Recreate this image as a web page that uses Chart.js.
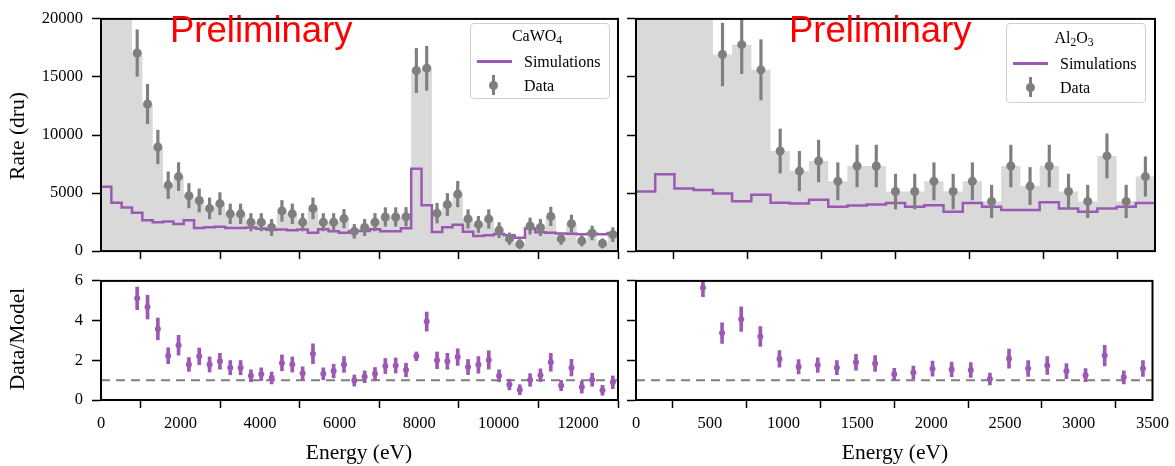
<!DOCTYPE html>
<html>
<head>
<meta charset="utf-8">
<script src="https://cdn.jsdelivr.net/npm/chart.js@4.4.1/dist/chart.umd.min.js"></script>
<style>
body { margin: 0; background: #fff; width: 1175px; height: 466px; position: relative; overflow: hidden;
       font-family: "Liberation Serif", "DejaVu Serif", serif; color: #000; }
.panel { position: absolute; }
.txt { position: absolute; white-space: nowrap; transform: translate(-50%, -50%); font-size: 21.5px; }
.rot { transform: translate(-50%, -50%) rotate(-90deg); }
.prelim { position: absolute; font-family: "Liberation Sans", Arial, sans-serif; color: #ff0000;
          font-size: 36.5px; line-height: 36px; white-space: nowrap; }
.leyenda { position: absolute; background: rgba(255,255,255,0.85); border: 1.5px solid #d0d0d0; border-radius: 4px; box-sizing: border-box; }
.leyenda div { position: absolute; white-space: nowrap; font-size: 16px; line-height: 20px; }
.leyenda sub { font-size: 0.72em; vertical-align: -0.3em; line-height: 0; }
.linea { position: absolute; height: 2.5px; background: #9c59b4; }
.punto { position: absolute; width: 9px; height: 9px; border-radius: 50%; background: #7f7f7f; }
.barra { position: absolute; width: 2.5px; height: 20px; background: #7f7f7f; }
</style>
</head>
<body>
<div class="panel" style="left:0;top:0;width:630px;height:270px"><canvas id="cTL"></canvas></div>
<div class="panel" style="left:0;top:262px;width:630px;height:204px"><canvas id="cBL"></canvas></div>
<div class="panel" style="left:620px;top:0;width:555px;height:270px"><canvas id="cTR"></canvas></div>
<div class="panel" style="left:620px;top:262px;width:555px;height:204px"><canvas id="cBR"></canvas></div>

<div class="txt rot" style="left:17px;top:136px">Rate (dru)</div>
<div class="txt rot" style="left:17px;top:339px">Data/Model</div>
<div class="txt" style="left:359px;top:452px">Energy (eV)</div>
<div class="txt" style="left:895px;top:452px">Energy (eV)</div>

<div class="prelim" style="left:170px;top:12px">Preliminary</div>
<div class="prelim" style="left:789px;top:12px">Preliminary</div>

<div class="leyenda" style="left:470px;top:23px;width:140px;height:76px">
  <div style="left:0;width:132px;top:2px;text-align:center">CaWO<sub>4</sub></div>
  <span class="linea" style="left:6px;width:35px;top:36px"></span>
  <div style="left:53px;top:28px">Simulations</div>
  <span class="barra" style="left:21px;top:51px"></span>
  <span class="punto" style="left:18px;top:57px"></span>
  <div style="left:53px;top:52px">Data</div>
</div>
<div class="leyenda" style="left:1006px;top:23px;width:140px;height:80px">
  <div style="left:0;width:134px;top:4px;text-align:center">Al<sub>2</sub>O<sub>3</sub></div>
  <span class="linea" style="left:6px;width:35px;top:38px"></span>
  <div style="left:53px;top:30px">Simulations</div>
  <span class="barra" style="left:22px;top:53px"></span>
  <span class="punto" style="left:19px;top:59px"></span>
  <div style="left:53px;top:54px">Data</div>
</div>

<script>
// Bordes de los bins de energía (eV)
const edgesCaWO4 = [0, 260, 520, 780, 1040, 1300, 1560, 1820, 2080, 2340, 2600, 2860, 3120, 3380, 3640, 3900,
  4160, 4420, 4680, 4940, 5200, 5460, 5720, 5980, 6240, 6500, 6760, 7020, 7280, 7540, 7800, 8060, 8320, 8580,
  8840, 9100, 9360, 9620, 9880, 10140, 10400, 10660, 10920, 11180, 11440, 11700, 11960, 12220, 12480, 12740, 13000];
const edgesAl2O3 = [0, 129.6, 259.3, 388.9, 518.5, 648.1, 777.8, 907.4, 1037, 1166.7, 1296.3, 1425.9, 1555.6,
  1685.2, 1814.8, 1944.4, 2074.1, 2203.7, 2333.3, 2463, 2592.6, 2722.2, 2851.9, 2981.5, 3111.1, 3240.7, 3370.4, 3500];

// CaWO4: histograma de datos (los primeros bins salen de escala), simulación, datos y ratio
const histCaWO4 = [32000, 28000, 24000, 17060, 12675, 8970, 5680, 6420, 4770, 4360, 3680, 4090, 3210, 3210, 2490,
  2490, 2030, 3460, 3210, 2490, 3680, 2490, 2490, 2800, 1700, 2030, 2490, 2940, 2940, 2960, 15555, 15745, 3270,
  4010, 4910, 2770, 2300, 2770, 1810, 1070, 600, 2160, 2030, 2990, 1070, 2360, 880, 1560, 660, 1420];
const simCaWO4 = [5540, 4170, 3760, 3300, 2650, 2480, 2540, 2330, 2650, 2000, 2060, 2100, 1980, 1980, 2040, 1930,
  1840, 1850, 1800, 1850, 1590, 1890, 1710, 1570, 1740, 1740, 1890, 1720, 1700, 1960, 7100, 3950, 1640, 2060,
  2270, 1670, 1300, 1370, 1480, 1370, 1160, 1950, 1620, 1570, 1520, 1500, 1450, 1500, 1450, 1550];
const dataCaWO4 = [null, null, null, 17060, 12675, 8970, 5680, 6420, 4770, 4360, 3680, 4090, 3210, 3210, 2490,
  2490, 2030, 3460, 3210, 2490, 3680, 2490, 2490, 2800, 1700, 2030, 2490, 2940, 2940, 2960, 15555, 15745, 3270,
  4010, 4910, 2770, 2300, 2770, 1810, 1070, 600, 2160, 2030, 2990, 1070, 2360, 880, 1560, 660, 1420];
const errCaWO4 = [null, null, null, 2000, 1700, 1450, 1150, 1200, 1050, 1000, 900, 950, 850, 850, 750, 750, 700,
  900, 850, 750, 900, 750, 750, 800, 600, 700, 750, 800, 800, 800, 1900, 1900, 850, 950, 1100, 800, 700, 800,
  650, 500, 400, 700, 700, 800, 500, 750, 450, 600, 400, 600];
const ratioCaWO4 = [null, null, null, 5.12, 4.68, 3.58, 2.23, 2.76, 1.79, 2.2, 1.79, 1.95, 1.63, 1.63, 1.22, 1.30,
  1.11, 1.87, 1.79, 1.35, 2.33, 1.32, 1.46, 1.79, 0.98, 1.17, 1.32, 1.71, 1.74, 1.51, 2.2, 3.95, 2.0, 1.95,
  2.16, 1.66, 1.77, 2.02, 1.22, 0.78, 0.52, 1.01, 1.25, 1.9, 0.73, 1.63, 0.65, 1.02, 0.49, 0.89];
const ratioErrCaWO4 = [null, null, null, 0.57, 0.6, 0.55, 0.4, 0.5, 0.35, 0.42, 0.38, 0.4, 0.36, 0.36, 0.3, 0.32,
  0.3, 0.4, 0.38, 0.32, 0.5, 0.3, 0.34, 0.4, 0.28, 0.3, 0.32, 0.38, 0.38, 0.34, 0.22, 0.48, 0.42, 0.4, 0.42,
  0.38, 0.42, 0.46, 0.3, 0.27, 0.25, 0.32, 0.32, 0.45, 0.26, 0.42, 0.3, 0.33, 0.25, 0.32];

// Al2O3
const histAl2O3 = [30000, 30000, 30000, 29800, 16930, 17780, 15610, 8620, 6890, 7760, 6010, 7330, 7330, 5130,
  5130, 6010, 5130, 6010, 4280, 7330, 5600, 7330, 5130, 4280, 8200, 4280, 6420];
const simAl2O3 = [5130, 6610, 5400, 5270, 4960, 4300, 4860, 4170, 4090, 4420, 3810, 3925, 4010, 4140, 3810, 3950,
  3400, 4140, 3810, 3540, 3540, 4200, 3680, 3400, 3680, 3810, 4140];
const dataAl2O3 = [null, null, null, null, 16930, 17780, 15610, 8620, 6890, 7760, 6010, 7330, 7330, 5130, 5130,
  6010, 5130, 6010, 4280, 7330, 5600, 7330, 5130, 4280, 8200, 4280, 6420];
const errAl2O3 = [null, null, null, null, 2700, 2500, 2600, 1900, 1700, 1800, 1600, 1800, 1800, 1500, 1500, 1600,
  1500, 1600, 1400, 1800, 1600, 1800, 1500, 1400, 1900, 1400, 1700];
const ratioAl2O3 = [null, null, null, 5.66, 3.37, 4.07, 3.2, 2.07, 1.68, 1.76, 1.63, 1.9, 1.84, 1.30, 1.38, 1.58,
  1.54, 1.51, 1.06, 2.08, 1.59, 1.74, 1.46, 1.25, 2.24, 1.14, 1.59];
const ratioErrAl2O3 = [null, null, null, 0.46, 0.52, 0.62, 0.5, 0.42, 0.36, 0.37, 0.35, 0.4, 0.4, 0.3, 0.33, 0.38,
  0.37, 0.37, 0.3, 0.48, 0.4, 0.45, 0.38, 0.33, 0.52, 0.33, 0.4];

// Marcas de los ejes
const ticksX_CaWO4 = { min: 0, max: 13000, values: [0, 2000, 4000, 6000, 8000, 10000, 12000] };
const ticksX_Al2O3 = { min: 0, max: 3500, values: [0, 500, 1000, 1500, 2000, 2500, 3000, 3500] };
const ticksY_rate = { min: 0, max: 20000, values: [0, 5000, 10000, 15000, 20000] };
const ticksY_ratio = { min: 0, max: 6, values: [0, 2, 4, 6] };

const MORADO = '#9c59b4';
const GRIS = '#7f7f7f';
const FUENTE = { family: 'Liberation Serif', size: 16.5 };

// Puntos para histograma escalonado (borde izquierdo + borde final)
function pasos(edges, vals) {
  const pts = vals.map((v, i) => ({ x: edges[i], y: v }));
  pts.push({ x: edges[edges.length - 1], y: vals[vals.length - 1] });
  return pts;
}
function puntos(edges, vals) {
  const pts = [];
  vals.forEach((v, i) => { if (v !== null) pts.push({ x: (edges[i] + edges[i + 1]) / 2, y: v }); });
  return pts;
}
function barrasError(edges, vals, errs) {
  const pts = [];
  vals.forEach((v, i) => { if (v !== null) pts.push({ x: (edges[i] + edges[i + 1]) / 2, y: [v - errs[i], v + errs[i]] }); });
  return pts;
}

const marco = {
  id: 'marco',
  afterDraw(chart) {
    const { ctx, chartArea: a } = chart;
    ctx.save();
    ctx.lineWidth = 2;
    ctx.strokeStyle = '#000';
    ctx.strokeRect(a.left, a.top, a.right - a.left, a.bottom - a.top);
    ctx.restore();
  }
};

function crearPanel(id, datasets, tx, ty, opts) {
  new Chart(document.getElementById(id), {
    type: 'line',
    data: { datasets: datasets },
    options: {
      responsive: true,
      maintainAspectRatio: false,
      animation: false,
      events: [],
      layout: { padding: { top: 15, right: opts.right, left: 0, bottom: 0 } },
      plugins: { legend: { display: false }, tooltip: { enabled: false } },
      scales: {
        x: {
          type: 'linear', min: tx.min, max: tx.max, offset: false,
          border: { display: true, color: '#000', width: 2 },
          grid: { display: true, drawOnChartArea: false, drawTicks: true, tickLength: 8, tickWidth: 1.5, tickColor: '#000' },
          ticks: {
            maxRotation: 0, autoSkip: false, padding: 6, color: '#000', font: FUENTE,
            callback: v => opts.xLabels ? String(v) : ''
          },
          afterBuildTicks: s => { s.ticks = tx.values.map(v => ({ value: v })); },
          afterFit: s => { s.height = opts.xHeight; }
        },
        y: {
          type: 'linear', min: ty.min, max: ty.max,
          border: { display: true, color: '#000', width: 2 },
          grid: { display: true, drawOnChartArea: false, drawTicks: true, tickLength: 9, tickWidth: 1.5, tickColor: '#000' },
          ticks: {
            padding: 9, color: '#000', font: FUENTE,
            callback: v => opts.yLabels ? String(v) : ''
          },
          afterBuildTicks: s => { s.ticks = ty.values.map(v => ({ value: v })); },
          afterFit: s => { s.width = opts.yWidth; }
        }
      }
    },
    plugins: [marco]
  });
}

function panelRate(id, edges, hist, sim, data, err, tx, opts) {
  crearPanel(id, [
    { data: puntos(edges, data), showLine: false, pointRadius: 4.5, pointBackgroundColor: GRIS,
      pointBorderWidth: 0, order: 1 },
    { type: 'bar', data: barrasError(edges, data, err), backgroundColor: GRIS, barThickness: 2.5,
      borderWidth: 0, grouped: false, order: 2 },
    { data: pasos(edges, sim), stepped: true, borderColor: MORADO, borderWidth: 2.5, pointRadius: 0,
      fill: false, order: 3 },
    { data: pasos(edges, hist), stepped: true, borderWidth: 0, borderColor: 'rgba(0,0,0,0)', pointRadius: 0,
      fill: 'origin', backgroundColor: '#d9d9d9', order: 4 }
  ], tx, ticksY_rate, opts);
}

function panelRatio(id, edges, ratio, err, tx, opts) {
  crearPanel(id, [
    { data: puntos(edges, ratio), showLine: false, pointRadius: 3, pointBackgroundColor: MORADO,
      pointBorderWidth: 0, order: 1 },
    { type: 'bar', data: barrasError(edges, ratio, err), backgroundColor: MORADO, barThickness: 3,
      borderWidth: 0, grouped: false, order: 2 },
    { data: [{ x: tx.min, y: 1 }, { x: tx.max, y: 1 }], borderColor: GRIS, borderWidth: 2,
      borderDash: [9, 6], pointRadius: 0, fill: false, order: 3 }
  ], tx, ticksY_ratio, opts);
}

document.addEventListener('DOMContentLoaded', () => {
  panelRate('cTL', edgesCaWO4, histCaWO4, simCaWO4, dataCaWO4, errCaWO4, ticksX_CaWO4,
    { right: 12, yWidth: 101, xHeight: 12, xLabels: false, yLabels: true });
  panelRatio('cBL', edgesCaWO4, ratioCaWO4, ratioErrCaWO4, ticksX_CaWO4,
    { right: 12, yWidth: 101, xHeight: 66, xLabels: true, yLabels: true });
  panelRate('cTR', edgesAl2O3, histAl2O3, simAl2O3, dataAl2O3, errAl2O3, ticksX_Al2O3,
    { right: 20, yWidth: 16, xHeight: 12, xLabels: false, yLabels: false });
  panelRatio('cBR', edgesAl2O3, ratioAl2O3, ratioErrAl2O3, ticksX_Al2O3,
    { right: 20, yWidth: 16, xHeight: 66, xLabels: true, yLabels: false });
});
</script>
</body>
</html>
